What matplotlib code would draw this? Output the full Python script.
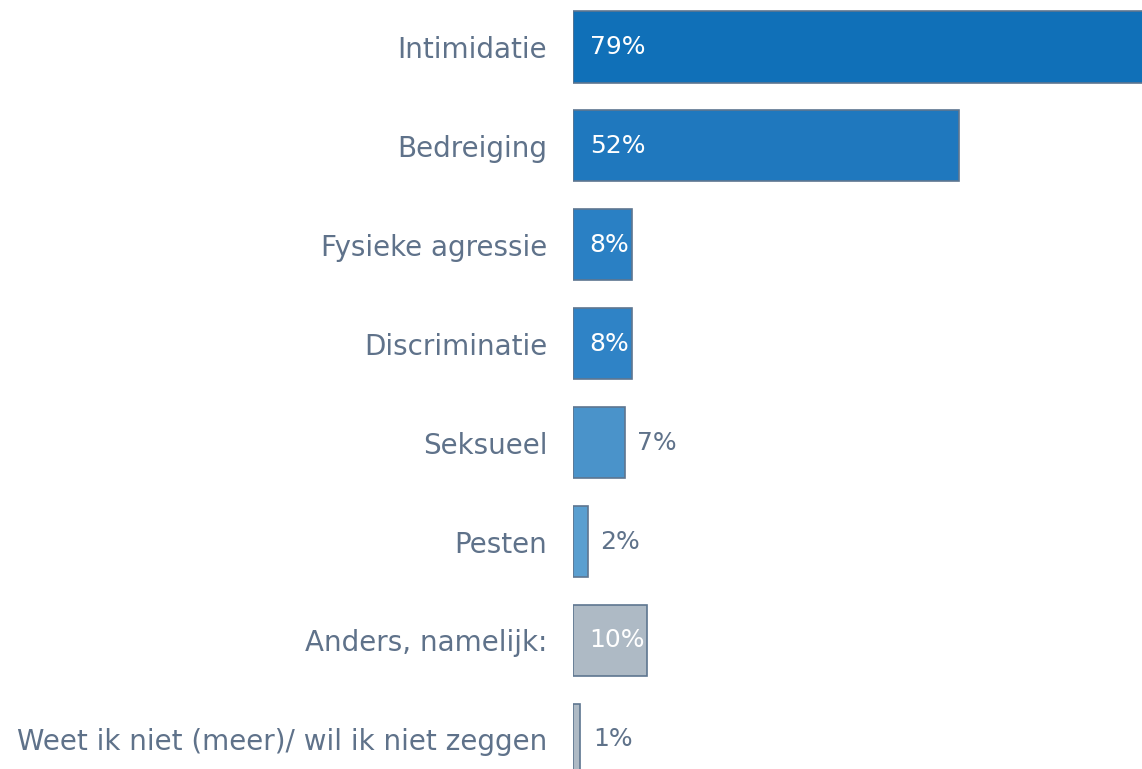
import numpy as np
import matplotlib.pyplot as plt

# Categorieen en percentages
categorieen = ["Intimidatie", "Bedreiging", "Fysieke agressie", "Discriminatie",
               "Seksueel", "Pesten", "Anders, namelijk:",
               "Weet ik niet (meer)/ wil ik niet zeggen"]
waarden = [79, 52, 8, 8, 7, 2, 10, 1]
kleuren = ["#1070b8", "#1f78be", "#2a80c4", "#2f83c6",
           "#4a93ca", "#5a9fd0", "#aebac5", "#aebac5"]

tekstkleur = "#5f728a"
randkleur = "#5e7690"

plt.rcParams['font.family'] = ['DejaVu Sans']

fig = plt.figure(figsize=(11.42, 7.69), dpi=100)
ax = fig.add_axes([0.5018, 0.0, 0.4982, 1.0])

y = np.arange(len(categorieen))
ax.barh(y, waarden, height=0.72, color=kleuren, edgecolor=randkleur, linewidth=1.2)

ax.set_xlim(0, 76.7)
ax.set_ylim(7.30, -0.475)

ax.set_yticks(y)
ax.set_yticklabels(categorieen, fontsize=20, color=tekstkleur)
ax.tick_params(axis='y', length=0, pad=18.5)
ax.set_xticks([])
for s in ax.spines.values():
    s.set_visible(False)

# Labels in of naast de balk
for yi, w in zip(y, waarden):
    if w >= 8:
        ax.annotate(f"{w}%", (0, yi), xytext=(12, 0), textcoords="offset points",
                    va="center", ha="left", fontsize=18, color="white")
    else:
        ax.annotate(f"{w}%", (w, yi), xytext=(9, 0), textcoords="offset points",
                    va="center", ha="left", fontsize=18, color=tekstkleur)

fig.savefig("out.png", dpi=100)
